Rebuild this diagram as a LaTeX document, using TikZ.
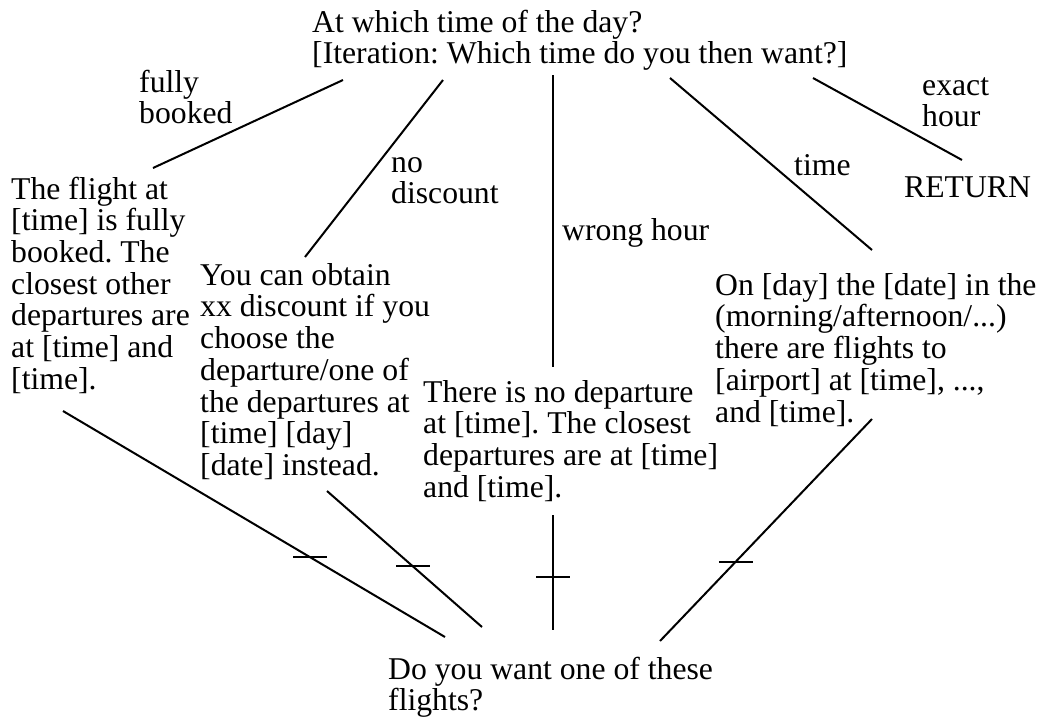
\documentclass[tikz,border=0pt]{standalone}
\usepackage{fontspec}
\setmainfont{Liberation Serif}
\usepackage{tikz}
\usetikzlibrary{calc}
\frenchspacing
\newcommand{\txtlines}[1]{\begin{tabular}[t]{@{}l@{}}#1\end{tabular}}

\begin{document}
\begin{tikzpicture}[x=1pt,y=-1pt,
        txt/.style={anchor=base west,inner sep=0pt,
            font=\fontsize{31.7}{31.7}\selectfont},
        link/.style={line width=2pt}]
            \useasboundingbox (0,0) rectangle (1043,716);

            \node[txt] (q) at (312,32) {\txtlines{At which time of the day?\\{[}Iteration: Which time do you then want?]}};

            \node[txt] (full) at (11,199) {\txtlines{The flight at\\{[}time] is fully\\booked. The\\closest other\\departures are\\at [time] and\\{[}time].}};
            \node[txt] (disc) at (200,285) {\txtlines{You can obtain\\xx discount if you\\choose the\\departure/one of\\the departures at\\{[}time] [day]\\{[}date] instead.}};
            \node[txt] (nodep) at (423,402) {\txtlines{There is no departure\\at [time]. The closest\\departures are at [time]\\and [time].}};
            \node[txt] (flights) at (715,295) {\txtlines{On [day] the [date] in the\\(morning/afternoon/...)\\there are flights to\\{[}airport] at [time], ...,\\and [time].}};
            \node[txt] (ret) at (904,197) {RETURN};

            \node[txt] (want) at (388,679) {\txtlines{Do you want one of these\\flights?}};

            % answer labels
            \node[txt] (lfull) at (139,92) {\txtlines{fully\\booked}};
            \node[txt] (ldisc) at (391,172) {\txtlines{no\\discount}};
            \node[txt] (lwrong) at (562,240) {wrong hour};
            \node[txt] (ltime) at (794,175) {time};
            \node[txt] (lexact) at (922,95) {\txtlines{exact\\hour}};

            \draw[link] ($(q.base west)+(31,48)$) -- ($(full.base west)+(142,-31)$);
            \draw[link] ($(q.base west)+(131,48)$) -- ($(disc.base west)+(105,-28)$);
            \draw[link] ($(q.base west)+(241,43)$) -- ($(nodep.base west)+(130,-35)$);
            \draw[link] ($(q.base west)+(358,46)$) -- ($(flights.base west)+(157,-45)$);
            \draw[link] ($(q.base west)+(501,46)$) -- ($(ret.base west)+(58,-37)$);

            % back to the question, with a bar
            \draw[link] ($(full.base west)+(52,212)$) -- coordinate[pos=.647] (b1) ($(want.base west)+(57,-42)$);
            \draw[link] ($(disc.base west)+(127,206)$) -- coordinate[pos=.555] (b2) ($(want.base west)+(94,-52)$);
            \draw[link] ($(nodep.base west)+(130,113)$) -- coordinate[pos=.54] (b3) ($(want.base west)+(165,-49)$);
            \draw[link] ($(flights.base west)+(157,124)$) -- coordinate[pos=.642] (b4) ($(want.base west)+(272,-38)$);
            \foreach \b in {b1,b2,b3,b4}
                \draw[link] ([xshift=-17]\b) -- ([xshift=17]\b);
        \end{tikzpicture}
\end{document}
